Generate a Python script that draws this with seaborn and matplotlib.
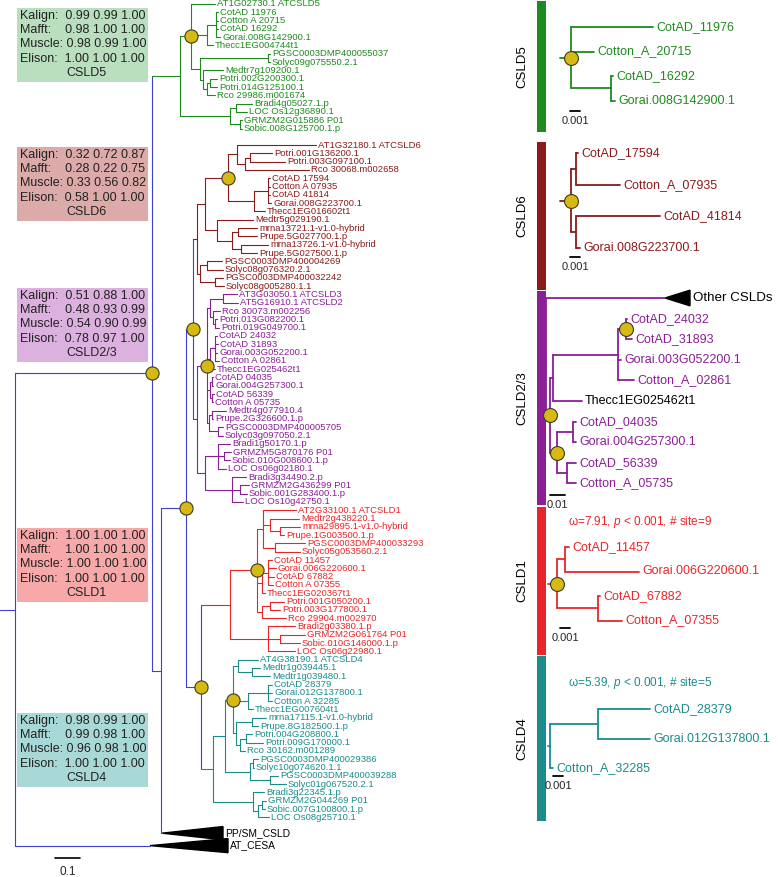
import numpy as np
import pandas as pd
import matplotlib
matplotlib.use("Agg")
import matplotlib.pyplot as plt
import seaborn as sns
from matplotlib.patches import Polygon, Rectangle

# ---------------- data: main tree (Newick, branch lengths in subst./site) ----------------
csld5 = ("((AT1G02730.1 ATCSLD5:0.096,((CotAD 11976:0.008,Cotton A 20715:0.008,CotAD 16292:0.008,"
         "Gorai.008G142900.1:0.016):0.036,Thecc1EG004744t1:0.024):0.064,((PGSC0003DMP400055037:0.008,"
         "Solyc09g075550.2.1:0.008):0.272,(Medtr7g109200.1:0.08,((Potri.002G200300.1:0.028,"
         "Potri.014G125100.1:0.028):0.012,Rco 29986.m001674:0.032):0.016):0.012):0.036)o:0.044,"
         "((Bradi4g05027.1.p:0.064,LOC Os12g36890.1:0.044):0.024,(GRMZM2G015886 P01:0.008,"
         "Sobic.008G125700.1.p:0.008):0.04):0.2)CSLD5:0.112")
csld6 = ("((((AT1G32180.1 ATCSLD6:0.316,((Potri.001G136200.1:0.088,Potri.003G097100.1:0.14):0.02,"
         "Rco 30068.m002658:0.256):0.032):0.036,((CotAD 17594:0.008,Cotton A 07935:0.008,CotAD 41814:0.008,"
         "Gorai.008G223700.1:0.012):0.056,Thecc1EG016602t1:0.044):0.104)o:0.092,(Medtr5g029190.1:0.144,"
         "((mrna13721.1-v1.0-hybrid:0.076,Prupe.5G027700.1.p:0.076):0.024,(mrna13726.1-v1.0-hybrid:0.108,"
         "Prupe.5G027500.1.p:0.064):0.036):0.06):0.048):0.032,((PGSC0003DMP400004269:0.06,"
         "Solyc08g076320.2.1:0.064):0.028,(PGSC0003DMP400032242:0.032,Solyc08g005280.1.1:0.036):0.06):0.012)"
         "CSLD6:0.016")
csld23 = ("((((AT3G03050.1 ATCSLD3:0.056,AT5G16910.1 ATCSLD2:0.06):0.052,(Rco 30073.m002256:0.028,"
          "(Potri.013G082200.1:0.008,Potri.019G049700.1:0.016):0.008):0.012):0.012,((CotAD 24032:0.008,"
          "CotAD 31893:0.012,Gorai.003G052200.1:0.008,Cotton A 02861:0.016):0.02,Thecc1EG025462t1:0.02):0.012,"
          "((CotAD 04035:0.004,Gorai.004G257300.1:0.004):0.008,(CotAD 56339:0.008,Cotton A 05735:0.004):0.008):0.012,"
          "((Medtr4g077910.4:0.056,Prupe.2G326600.1.p:0.004):0.012,(PGSC0003DMP400005705:0.02,"
          "Solyc03g097050.2.1:0.02):0.036):0.008)o:0.04,((Bradi1g50170.1.p:0.048,(GRMZM5G870176 P01:0.028,"
          "Sobic.010G008600.1.p:0.024):0.024,LOC Os06g02180.1:0.032):0.052,(Bradi3g34490.2.p:0.056,"
          "(GRMZM2G436299 P01:0.036,Sobic.001G283400.1.p:0.028):0.032,LOC Os10g42750.1:0.044):0.108):0.032)"
          "CSLD2/3:0.016")
csld1 = ("(((AT2G33100.1 ATCSLD1:0.132,(Medtr2g438220.1:0.116,(mrna29895.1-v1.0-hybrid:0.08,"
         "Prupe.1G003500.1.p:0.016):0.04):0.028,(PGSC0003DMP400033293:0.12,Solyc05g053560.2.1:0.1):0.048):0.024,"
         "((CotAD 11457:0.016,Gorai.006G220600.1:0.032,CotAD 67882:0.024,Cotton A 07355:0.02):0.024,"
         "Thecc1EG020367t1:0.012):0.02,((Potri.001G050200.1:0.056,Potri.003G177800.1:0.04):0.032,"
         "Rco 29904.m002970:0.096):0.02)o:0.108,(Bradi2g03380.1.p:0.108,(GRMZM2G061764 P01:0.1,"
         "Sobic.010G146000.1.p:0.08):0.048,LOC Os06g22980.1:0.108):0.152)CSLD1:0.116")
csld4 = ("((((AT4G38190.1 ATCSLD4:0.08,(Medtr1g039445.1:0.032,Medtr1g039480.1:0.072):0.056):0.02,"
         "((CotAD 28379:0.016,Gorai.012G137800.1:0.016,Cotton A 32285:0.016):0.08,Thecc1EG007604t1:0.02):0.06,"
         "((mrna17115.1-v1.0-hybrid:0.056,Prupe.8G182500.1.p:0.024):0.064,((Potri.004G208800.1:0.024,"
         "Potri.009G170000.1:0.068):0.024,Rco 30162.m001289:0.02):0.016):0.012)o:0.032,"
         "((PGSC0003DMP400029386:0.02,Solyc10g074620.1.1:0.004):0.012,(PGSC0003DMP400039288:0.032,"
         "Solyc01g067520.2.1:0.064):0.08):0.1):0.048,(Bradi3g22345.1.p:0.044,((GRMZM2G044269 P01:0.016,"
         "Sobic.007G100800.1.p:0.012):0.016,LOC Os08g25710.1:0.044):0.02):0.16)CSLD4:0.048")
backbone = ("((" + csld5 + ",(((" + csld6 + "," + csld23 + ")o:0.028,(" + csld1 + "," + csld4 +
            ")o:0.06)o:0.1,PP/SM_CSLD:0.004):0.036)o:0.548,AT_CESA:0.54):0.06")

collapsed = {"PP/SM_CSLD": (0.244, 0.8), "AT_CESA": (0.312, 0.85)}
leaf_gaps = {"AT1G32180.1 ATCSLD6": 1.0, "PP/SM_CSLD": 0.9, "AT_CESA": 0.5}

clades = ["CSLD5", "CSLD6", "CSLD2/3", "CSLD1", "CSLD4"]
clade_colors = ["#1f8a1f", "#8b1a1a", "#8a1f96", "#e8262a", "#1a8c8c"]
box_colors = ["#b9dfbe", "#dcaaa8", "#dcb0df", "#f7a8a8", "#a9d9d6"]

methods = ["Kalign:", "Mafft:", "Muscle:", "Elison:"]
method_pad = ["  ", "    ", " ", "  "]
scores_csld5 = [[0.99, 0.99, 1.00], [0.98, 1.00, 1.00], [0.98, 0.99, 1.00], [1.00, 1.00, 1.00]]
scores_csld6 = [[0.32, 0.72, 0.87], [0.28, 0.22, 0.75], [0.33, 0.56, 0.82], [0.58, 1.00, 1.00]]
scores_csld23 = [[0.51, 0.88, 1.00], [0.48, 0.93, 0.99], [0.54, 0.90, 0.99], [0.78, 0.97, 1.00]]
scores_csld1 = [[1.00, 1.00, 1.00], [1.00, 1.00, 1.00], [1.00, 1.00, 1.00], [1.00, 1.00, 1.00]]
scores_csld4 = [[0.98, 0.99, 1.00], [0.99, 0.98, 1.00], [0.96, 0.98, 1.00], [1.00, 1.00, 1.00]]

# ---------------- data: cotton sub-trees on the right ----------------
sub_csld5 = ("(CotAD_11976:0.0082,Cotton_A_20715:0.0023,(CotAD_16292:0.0002,"
             "Gorai.008G142900.1:0.0004):0.004)o:0.0011")
sub_csld6 = ("((CotAD_17594:0.0002,Cotton_A_07935:0.0044):0.0005,(CotAD_41814:0.0084,"
             "Gorai.008G223700.1:0.0004):0.0005)o:0.0011")
sub_csld23 = ("(Other CSLDs:0.0793,((((CotAD_24032:0.0007,CotAD_31893:0.004)o:0.0053,Gorai.003G052200.1:0.002,"
              "Cotton_A_02861:0.0107):0.0433,Thecc1EG025462t1:0.0193):0.002,((CotAD_04035:0.002,"
              "Gorai.004G257300.1:0.002):0.0107,(CotAD_56339:0.006,Cotton_A_05735:0.006):0.0067)o:0.0047)o:0.0027)")
sub_csld1 = ("((CotAD_11457:0.0004,Gorai.006G220600.1:0.0074):0.0008,(CotAD_67882:0.0002,"
             "Cotton_A_07355:0.0024):0.0041)o:0.0009")
sub_csld4 = "((CotAD_28379:0.0052,Gorai.012G137800.1:0.0052):0.0048,Cotton_A_32285:0.0003):0.0002"
omega_csld1 = "ω=7.91, $p$ < 0.001, # site=9"
omega_csld4 = "ω=5.39, $p$ < 0.001, # site=5"

BLUE = "#4040cc"
GOLD = "#d7b914"

# ---------------- helpers ----------------
def parse_newick(s):
    pos = 0

    def read():
        nonlocal pos
        nd = {"kids": []}
        if s[pos] == "(":
            pos += 1
            nd["kids"].append(read())
            while s[pos] == ",":
                pos += 1
                nd["kids"].append(read())
            pos += 1
        start = pos
        while pos < len(s) and s[pos] not in ",():":
            pos += 1
        nd["name"] = s[start:pos].strip()
        nd["len"] = 0.0
        if pos < len(s) and s[pos] == ":":
            pos += 1
            start = pos
            while pos < len(s) and s[pos] not in ",()":
                pos += 1
            nd["len"] = float(s[start:pos])
        return nd
    return read()


def layout(root, color, colors=None, gaps=None):
    colors = colors or {}
    gaps = gaps or {}
    nodes = []
    slot = [None]

    def walk(nd, px, col):
        nd["x0"] = px
        nd["x"] = px + nd["len"]
        nd["color"] = colors.get(nd["name"], col)
        nodes.append(nd)
        if nd["kids"]:
            for k in nd["kids"]:
                walk(k, nd["x"], nd["color"])
            nd["y"] = (nd["kids"][0]["y"] + nd["kids"][-1]["y"]) / 2
        else:
            slot[0] = 0.0 if slot[0] is None else slot[0] + 1 + gaps.get(nd["name"], 0)
            nd["y"] = slot[0]
    walk(root, 0.0, color)
    return nodes


def leaves_of(nd):
    if not nd["kids"]:
        return [nd]
    out = []
    for k in nd["kids"]:
        out += leaves_of(k)
    return out


def draw_tree(ax, nodes, lw, fs, pad, dot_size, label_colors=None, tri=None):
    label_colors = label_colors or {}
    tri = tri or {}
    for nd in nodes:
        ax.plot([nd["x0"], nd["x"]], [nd["y"], nd["y"]], color=nd["color"], lw=lw, clip_on=False)
        if nd["kids"]:
            ax.plot([nd["x"], nd["x"]], [nd["kids"][0]["y"], nd["kids"][-1]["y"]],
                    color=nd["color"], lw=lw, clip_on=False)
        elif nd["name"] in tri:
            d, h = tri[nd["name"]]
            ax.add_patch(Polygon([(nd["x"], nd["y"]), (nd["x"] + d, nd["y"] - h), (nd["x"] + d, nd["y"] + h)],
                                 closed=True, color="black", clip_on=False))
            ax.text(nd["x"] + d + pad, nd["y"], nd["name"], fontsize=fs + 0.6, va="center", ha="left",
                    color="black")
        else:
            ax.text(nd["x"] + pad, nd["y"], nd["name"], fontsize=fs, va="center", ha="left",
                    color=label_colors.get(nd["name"], nd["color"]))
    dots = pd.DataFrame([{"x": nd["x"], "y": nd["y"]} for nd in nodes if nd["name"] == "o"])
    if len(dots):
        sns.scatterplot(data=dots, x="x", y="y", ax=ax, s=dot_size, color=GOLD, edgecolor="#3c3c20",
                        linewidth=0.8, zorder=5, legend=False, clip_on=False)


sns.set_theme(style="white")
plt.rcParams["font.family"] = ["Liberation Sans", "DejaVu Sans"]
plt.rcParams["mathtext.fontset"] = "custom"
plt.rcParams["mathtext.it"] = "Liberation Sans:italic"
plt.rcParams["mathtext.rm"] = "Liberation Sans"

W, H = 778, 877
fig = plt.figure(figsize=(W / 100, H / 100), dpi=100)


def px_axes(left, top, width, height, xunit, yunit, y0):
    ax = fig.add_axes([left / W, 1 - (top + height) / H, width / W, height / H])
    ax.set_xlim(0, width / xunit)
    ax.set_ylim((height - y0) / yunit, -y0 / yunit)
    ax.axis("off")
    return ax


# ---------------- main tree ----------------
ax = px_axes(0, 0, W, H, 250, 8.3, 4)
tree = parse_newick(backbone)
nodes = layout(tree, BLUE, dict(zip(clades, clade_colors)), leaf_gaps)
draw_tree(ax, nodes, 0.8, 6.8, 0.008, 90, tri=collapsed)

# scale bar
ax.plot([0.22, 0.32], [102.9, 102.9], color="black", lw=1.2)
ax.text(0.27, 104.6, "0.1", fontsize=8.5, ha="center", va="center")

# clade bars and names
by_name = {nd["name"]: nd for nd in nodes}
for name, col in zip(clades, clade_colors):
    ys = [lf["y"] for lf in leaves_of(by_name[name])]
    ax.add_patch(Rectangle((537 / 250, min(ys) - 0.4), 9 / 250, max(ys) - min(ys) + 0.8, color=col, lw=0))
    ax.text(522 / 250, (min(ys) + max(ys)) / 2, name, rotation=90, fontsize=9.5, ha="center",
            va="center", color="black")

# ---------------- score boxes ----------------
ov = px_axes(0, 0, W, H, 1, 1, 0)
box_tops = [8, 147, 288, 528, 713]
all_scores = [scores_csld5, scores_csld6, scores_csld23, scores_csld1, scores_csld4]
for top, name, fc, sc in zip(box_tops, clades, box_colors, all_scores):
    ov.add_patch(Rectangle((17, top), 131, 74, color=fc, lw=0))
    for i, (m, p, row) in enumerate(zip(methods, method_pad, sc)):
        ov.text(20, top + 8 + 14.2 * i, m + p + " ".join(f"{v:.2f}" for v in row), fontsize=9,
                va="center", ha="left", color="#222222")
    ov.text(66, top + 65, name, fontsize=9, va="center", ha="left", color="#222222")

# ---------------- right-hand sub-trees ----------------
def sub_panel(newick, color, left, top, width, height, xunit, yunit, y0, scale, scale_xy, label_colors=None):
    pa = px_axes(left, top, width, height, xunit, yunit, y0)
    st = parse_newick(newick)
    sn = layout(st, color)
    draw_tree(pa, sn, 1.3, 9, 0.0003 if scale < 0.005 else 0.002, 100, label_colors=label_colors,
              tri={"Other CSLDs": (0.0167, 0.38)})
    sx, sy = scale_xy
    pa.plot([sx, sx + scale], [sy, sy], color="black", lw=1.3)
    pa.text(sx + scale / 2, sy + 10 / yunit, f"{scale:g}", fontsize=8, ha="center", va="center")
    return pa


sub_panel(sub_csld5, clade_colors[0], 560, 0, 218, 140, 10000, 24.5, 27, 0.001, (0.001, 3.43))
sub_panel(sub_csld6, clade_colors[1], 560, 140, 218, 150, 10000, 31.7, 13, 0.001, (0.001, 3.28))
sub_panel(sub_csld23, clade_colors[2], 546, 290, 232, 230, 1500, 20.6, 8, 0.01, (0.0027, 9.56),
          label_colors={"Thecc1EG025462t1": "black", "Other CSLDs": "black"})
p1 = sub_panel(sub_csld1, clade_colors[3], 548, 505, 230, 150, 10000, 24.5, 42, 0.001, (0.0012, 3.3))
p1.text(0.002, -1.02, omega_csld1, fontsize=8.5, color=clade_colors[3], va="center", ha="left")
p4 = sub_panel(sub_csld4, clade_colors[4], 548, 665, 230, 140, 10000, 29.5, 44, 0.001, (0.0005, 2.27))
p4.text(0.002, -0.88, omega_csld4, fontsize=8.5, color=clade_colors[4], va="center", ha="left")

fig.savefig("out.png", dpi=100)
